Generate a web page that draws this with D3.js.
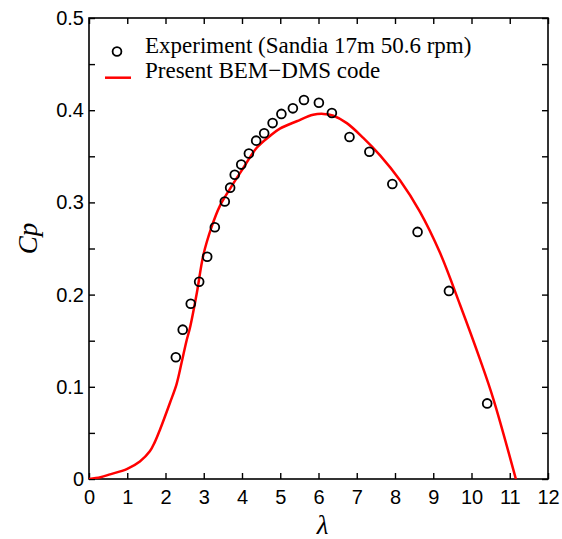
<!DOCTYPE html>
<html>
<head>
<meta charset="utf-8">
<script src="https://cdn.jsdelivr.net/npm/d3@7"></script>
<style>
  body { margin: 0; background: #fff; }
  svg { display: block; }
</style>
</head>
<body>
<div id="chart"></div>
<script>
// Experiment points (Sandia 17m 50.6 rpm)
const expLambda = [2.27, 2.45, 2.66, 2.88, 3.09, 3.29, 3.55, 3.69, 3.81, 3.98, 4.18, 4.37, 4.58, 4.80, 5.03, 5.33, 5.62, 6.01, 6.35, 6.81, 7.33, 7.93, 8.59, 9.41, 10.41]
const expCp = [0.132, 0.162, 0.190, 0.214, 0.241, 0.273, 0.301, 0.316, 0.330, 0.341, 0.353, 0.367, 0.375, 0.386, 0.396, 0.402, 0.411, 0.408, 0.397, 0.371, 0.355, 0.320, 0.268, 0.204, 0.082]

// Present BEM-DMS code curve
const bemLambda = [0, 0.3, 0.55, 1.0, 1.33, 1.59, 1.72, 1.86, 2.12, 2.29, 2.42, 2.55, 2.64, 2.82, 2.99, 3.21, 3.42, 3.69, 4.03, 4.38, 4.73, 4.99, 5.43, 5.86, 6.13, 6.39, 6.74, 7.17, 7.61, 8.13, 8.65, 9.18, 9.70, 10.22, 10.57, 11.16]
const bemCp = [0, 0.002, 0.005, 0.011, 0.019, 0.030, 0.040, 0.054, 0.083, 0.103, 0.126, 0.150, 0.164, 0.202, 0.243, 0.274, 0.296, 0.315, 0.337, 0.359, 0.372, 0.380, 0.388, 0.395, 0.396, 0.394, 0.386, 0.370, 0.351, 0.324, 0.290, 0.245, 0.189, 0.130, 0.087, 0]

const xTicks = [0, 1, 2, 3, 4, 5, 6, 7, 8, 9, 10, 11, 12]
const yTicks = [0, 0.1, 0.2, 0.3, 0.4, 0.5]
const yMinor = [0.05, 0.15, 0.25, 0.35, 0.45]

const legendLabels = ["Experiment (Sandia 17m 50.6 rpm)", "Present BEM\u2212DMS code"]

const width = 562, height = 539
const margin = {left: 89, right: 14, top: 18, bottom: 60}

const svg = d3.select("#chart").append("svg")
  .attr("width", width)
  .attr("height", height)

const x = d3.scaleLinear().domain([0, 12]).range([margin.left, width - margin.right])
const y = d3.scaleLinear().domain([0, 0.5]).range([height - margin.bottom, margin.top])

const tickLen = 6
const axisStyle = g => {
  g.select(".domain").remove()
  g.selectAll("line").attr("stroke", "#000").attr("stroke-width", 1.4)
  g.selectAll("text").attr("font-family", "Liberation Sans, Arial, sans-serif").attr("font-size", 20).attr("fill", "#000")
}

// axes (ticks inward)
svg.append("g")
  .attr("transform", `translate(0,${y(0)})`)
  .call(d3.axisBottom(x).tickValues(xTicks).tickSize(-tickLen).tickPadding(11).tickFormat(d3.format("d")))
  .call(axisStyle)

svg.append("g")
  .attr("transform", `translate(0,${y(0.5)})`)
  .call(d3.axisTop(x).tickValues(xTicks).tickSize(-tickLen).tickFormat(""))
  .call(axisStyle)

svg.append("g")
  .attr("transform", `translate(${x(0)},0)`)
  .call(d3.axisLeft(y).tickValues(yTicks).tickSize(-tickLen).tickPadding(5).tickFormat(d => d === 0 ? "0" : d3.format(".1f")(d)))
  .call(axisStyle)

svg.append("g")
  .attr("transform", `translate(${x(0)},0)`)
  .call(d3.axisLeft(y).tickValues(yMinor).tickSize(-tickLen).tickFormat(""))
  .call(axisStyle)

svg.append("g")
  .attr("transform", `translate(${x(12)},0)`)
  .call(d3.axisRight(y).tickValues(yTicks.concat(yMinor)).tickSize(-tickLen).tickFormat(""))
  .call(axisStyle)

// frame
svg.append("rect")
  .attr("x", x(0)).attr("y", y(0.5))
  .attr("width", x(12) - x(0)).attr("height", y(0) - y(0.5))
  .attr("fill", "none").attr("stroke", "#000").attr("stroke-width", 1.6)

// curve
svg.append("clipPath").attr("id", "clip")
  .append("rect")
  .attr("x", x(0)).attr("y", y(0.5))
  .attr("width", x(12) - x(0)).attr("height", y(0) - y(0.5))

const line = d3.line()
  .x((d, i) => x(bemLambda[i]))
  .y(d => y(d))
  .curve(d3.curveCatmullRom.alpha(0.5))

svg.append("path")
  .datum(bemCp)
  .attr("d", line)
  .attr("fill", "none")
  .attr("stroke", "#ff0000")
  .attr("stroke-width", 2.5)
  .attr("clip-path", "url(#clip)")

// experiment circles
svg.selectAll("circle.exp")
  .data(expCp)
  .enter()
  .append("circle")
  .attr("class", "exp")
  .attr("cx", (d, i) => x(expLambda[i]))
  .attr("cy", d => y(d))
  .attr("r", 4.4)
  .attr("fill", "none")
  .attr("stroke", "#000")
  .attr("stroke-width", 1.8)

// legend
const leg = svg.append("g")
leg.append("circle")
  .attr("cx", 117).attr("cy", 51.5)
  .attr("r", 4.4)
  .attr("fill", "none").attr("stroke", "#000").attr("stroke-width", 1.8)
leg.append("line")
  .attr("x1", 105).attr("x2", 131).attr("y1", 77.7).attr("y2", 77.7)
  .attr("stroke", "#ff0000").attr("stroke-width", 2.5)
leg.selectAll("text")
  .data(legendLabels)
  .enter()
  .append("text")
  .attr("x", 145)
  .attr("y", (d, i) => 52.5 + i * 25)
  .attr("font-family", "Liberation Serif, Times New Roman, serif")
  .attr("font-size", 23)
  .attr("fill", "#000")
  .text(d => d)

// axis titles
svg.append("text")
  .attr("transform", `translate(37,${(y(0) + y(0.5)) / 2 - 10}) rotate(-90)`)
  .attr("text-anchor", "middle")
  .attr("font-family", "Liberation Serif, Times New Roman, serif")
  .attr("font-style", "italic")
  .attr("font-size", 27)
  .attr("fill", "#000")
  .text("Cp")

svg.append("text")
  .attr("x", (x(0) + x(12)) / 2 + 4)
  .attr("y", 534)
  .attr("text-anchor", "middle")
  .attr("font-family", "Liberation Serif, Times New Roman, serif")
  .attr("font-style", "italic")
  .attr("font-size", 27)
  .attr("fill", "#000")
  .text("λ")
</script>
</body>
</html>
